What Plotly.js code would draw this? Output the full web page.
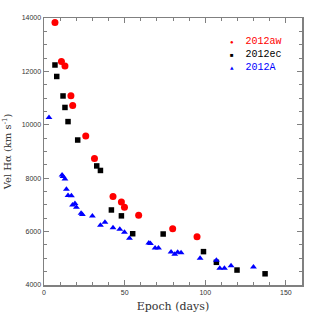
<!DOCTYPE html>
<html><head><meta charset="utf-8">
<script src="https://cdn.plot.ly/plotly-3.0.1.min.js"></script>
<style>html,body{margin:0;padding:0;background:#fff;}#chart{width:319px;height:319px;}</style>
</head><body><div id="chart"></div>
<script>
// 2012aw (red circles)
const awEpoch = [6.8, 10.8, 13.0, 16.7, 17.8, 25.9, 31.3, 42.8, 48.0, 49.9, 58.7, 79.8, 94.9];
const awVel   = [13830, 12370, 12200, 11090, 10720, 9580, 8740, 7310, 7110, 6910, 6610, 6110, 5810];
// 2012ec (black squares)
const ecEpoch = [6.8, 7.9, 11.8, 13.0, 14.9, 20.9, 32.7, 35.0, 41.8, 48.0, 55.0, 73.9, 98.9, 106.9, 119.7, 137.1];
const ecVel   = [12240, 11810, 11080, 10650, 10120, 9430, 8460, 8290, 6810, 6590, 5920, 5910, 5250, 4850, 4560, 4420];
// 2012A (blue triangles)
const aEpoch = [3.1, 11.2, 11.8, 13.0, 13.9, 14.9, 17.0, 17.7, 19.2, 20.1, 23.0, 23.8, 30.0, 35.0, 37.8, 42.8, 47.0, 49.9, 53.0, 65.0, 66.0, 68.9, 71.0, 78.8, 81.1, 82.9, 85.0, 96.8, 106.9, 109.0, 111.9, 116.0, 129.9];
const aVel   = [10270, 8120, 8060, 7970, 7590, 7350, 7340, 7000, 7050, 6910, 6690, 6640, 6580, 6240, 6350, 6140, 6090, 5980, 5750, 5570, 5550, 5390, 5390, 5240, 5150, 5230, 5210, 5000, 4930, 4630, 4630, 4720, 4670];
const names = ['2012aw', '2012ec', '2012A'];
const xTitle = 'Epoch (days)';
const yTitle = 'Vel H\u03B1 (km s<sup>-1</sup>)';

const traces = [
  {x: awEpoch, y: awVel, mode: 'markers', type: 'scatter', name: names[0],
   marker: {symbol: 'circle', size: 7, color: '#ff0000'}},
  {x: ecEpoch, y: ecVel, mode: 'markers', type: 'scatter', name: names[1],
   marker: {symbol: 'square', size: 5.5, color: '#000000'}},
  {x: aEpoch, y: aVel, mode: 'markers', type: 'scatter', name: names[2],
   marker: {symbol: 'triangle-up', size: 6, color: '#0000ff'}}
];

const axisCommon = {
  showgrid: false, zeroline: false, showline: true, linecolor: '#808080', linewidth: 1.5,
  mirror: 'ticks', ticks: 'inside', ticklen: 5, tickcolor: '#808080', tickwidth: 1,
  tickformat: 'd',
  tickfont: {family: 'Liberation Sans, Arial, sans-serif', size: 7, color: '#333'}
};

const legendColors = ['#ff0000', '#000000', '#0000ff'];
const legendGlyphs = ['\u25CF', '\u25A0', '\u25B2'];
const annotations = names.map((n, i) => ({
  xref: 'paper', yref: 'paper', x: 0.712, y: 0.912 - i * 0.049, xanchor: 'left', yanchor: 'middle',
  showarrow: false,
  text: '<span style="font-size:6px">' + legendGlyphs[i] + '</span>  ' + n,
  font: {family: 'Liberation Mono, monospace', size: 10, color: legendColors[i]}
}));

const layout = {
  width: 319, height: 319,
  margin: {l: 44, r: 17, t: 18, b: 34},
  paper_bgcolor: '#fff', plot_bgcolor: '#fff',
  showlegend: false,
  xaxis: Object.assign({}, axisCommon, {
    range: [0, 160], dtick: 50, tick0: 0,
    minor: {dtick: 10, ticks: 'inside', ticklen: 3, tickcolor: '#808080'},
    title: {text: xTitle, standoff: 7, font: {family: 'DejaVu Serif, serif', size: 11, color: '#333'}}
  }),
  yaxis: Object.assign({}, axisCommon, {
    range: [4000, 14000], dtick: 2000, tick0: 4000,
    minor: {dtick: 500, ticks: 'inside', ticklen: 3, tickcolor: '#808080'},
    title: {text: yTitle, standoff: 8, font: {family: 'DejaVu Serif, serif', size: 10, color: '#333'}}
  }),
  annotations: annotations
};

Plotly.newPlot('chart', traces, layout, {displayModeBar: false, staticPlot: true});
</script></body></html>
